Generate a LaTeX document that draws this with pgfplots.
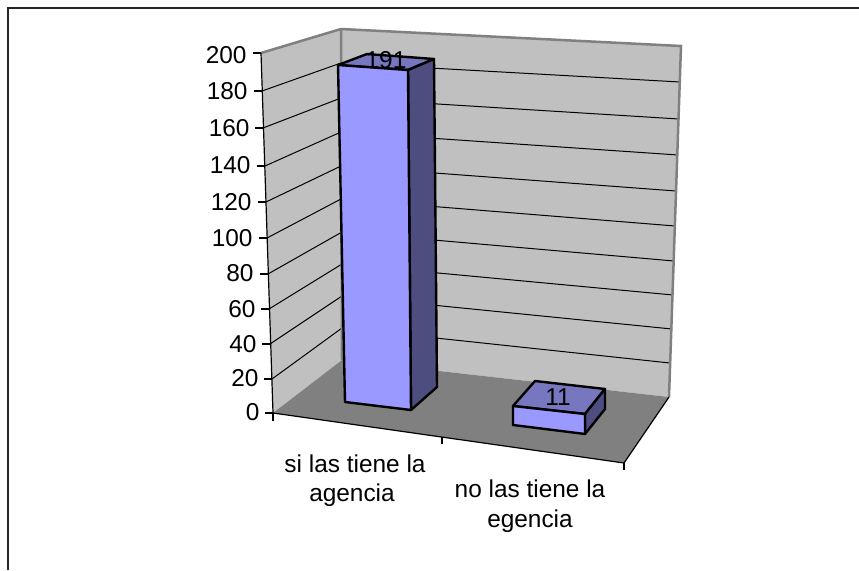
\documentclass[border=0pt]{standalone}
\usepackage{pgfplots}
\pgfplotsset{compat=1.18}
\usepackage{fontspec}
\setmainfont{Liberation Sans}
\definecolor{wall}{HTML}{C0C0C0}
\definecolor{floorc}{HTML}{808080}
\definecolor{bfront}{HTML}{9999FF}
\definecolor{btop}{HTML}{7777C0}
\definecolor{bside}{HTML}{4D4D80}
\newcommand{\lab}{\fontsize{24.4}{28}\selectfont}
\begin{document}
\begin{tikzpicture}[x=1pt,y=1pt]
\useasboundingbox (0,0) rectangle (859,570);
\begin{axis}[at={(0,0)},anchor=south west,scale only axis,width=859pt,height=570pt,
  xmin=0,xmax=859,ymin=0,ymax=570,y dir=reverse,hide axis,clip=false]
% walls and floor
\addplot[fill=wall,draw=none] coordinates {(261,53)(341,29)(342,360)(273,413)} --cycle;
\addplot[fill=wall,draw=none] coordinates {(341,29)(681,46)(669,397)(342,360)} --cycle;
\addplot[fill=floorc,draw=none] coordinates {(273,413)(342,360)(669,397)(624,463)} --cycle;
% gridlines
\addplot[black,line width=1pt] coordinates {(262,91)(341,63)(680,82)};
\addplot[black,line width=1pt] coordinates {(263,128)(341,98)(679,119)};
\addplot[black,line width=1pt] coordinates {(265,166)(341,132)(678,155)};
\addplot[black,line width=1pt] coordinates {(266,202)(341,166)(676,191)};
\addplot[black,line width=1pt] coordinates {(267,238)(341,199)(675,226)};
\addplot[black,line width=1pt] coordinates {(268,274)(342,232)(674,261)};
\addplot[black,line width=1pt] coordinates {(269,309)(342,264)(673,295)};
\addplot[black,line width=1pt] coordinates {(270,344)(342,296)(672,329)};
\addplot[black,line width=1pt] coordinates {(272,379)(342,328)(670,363)};
% wall edges
\addplot[floorc,line width=2.5pt] coordinates {(261,53)(341,29)(681,46)(669,397)};
\addplot[floorc,line width=2.5pt] coordinates {(341,29)(342,360)};
% axes
\addplot[black,line width=1.2pt] coordinates {(261,53)(273,413)(624,463)};
\addplot[black,line width=1.2pt] coordinates {(624,463)(669,397)};
\addplot[black,line width=1.2pt] coordinates {(253,53)(261,53)};
\addplot[black,line width=1.2pt] coordinates {(254,91)(262,91)};
\addplot[black,line width=1.2pt] coordinates {(255,128)(263,128)};
\addplot[black,line width=1.2pt] coordinates {(257,166)(265,166)};
\addplot[black,line width=1.2pt] coordinates {(258,202)(266,202)};
\addplot[black,line width=1.2pt] coordinates {(259,238)(267,238)};
\addplot[black,line width=1.2pt] coordinates {(260,274)(268,274)};
\addplot[black,line width=1.2pt] coordinates {(261,309)(269,309)};
\addplot[black,line width=1.2pt] coordinates {(262,344)(270,344)};
\addplot[black,line width=1.2pt] coordinates {(264,379)(272,379)};
\addplot[black,line width=1.2pt] coordinates {(265,413)(273,413)};
\addplot[black,line width=1.2pt] coordinates {(273,413)(273,421)};
\addplot[black,line width=1.2pt] coordinates {(442,437)(442,444)};
\addplot[black,line width=1.2pt] coordinates {(624,463)(624,470)};
% bar 1: value 191
\addplot[fill=btop,draw=black,line width=2.4pt,line join=round] coordinates {(338,65)(367,54)(434,59)(408,70)} --cycle;
\addplot[fill=bside,draw=black,line width=2.4pt,line join=round] coordinates {(408,70)(434,59)(437,387)(411,410)} --cycle;
\addplot[fill=bfront,draw=black,line width=2.4pt,line join=round] coordinates {(338,65)(408,70)(411,410)(345,402)} --cycle;
% bar 2: value 11
\addplot[fill=btop,draw=black,line width=2.4pt,line join=round] coordinates {(513,406)(535,381)(605,389)(585,414)} --cycle;
\addplot[fill=bside,draw=black,line width=2.4pt,line join=round] coordinates {(585,414)(605,389)(605,409)(585,434)} --cycle;
\addplot[fill=bfront,draw=black,line width=2.4pt,line join=round] coordinates {(513,406)(585,414)(585,434)(513,425)} --cycle;
% outer border
\addplot[black!85,line width=1.6pt] coordinates {(8,570)(8,8)(859,8)};
% text
\node[font=\lab,anchor=east] at (axis cs:250,55) {200};
\node[font=\lab,anchor=east] at (axis cs:251,91) {180};
\node[font=\lab,anchor=east] at (axis cs:253,128) {160};
\node[font=\lab,anchor=east] at (axis cs:254,165) {140};
\node[font=\lab,anchor=east] at (axis cs:255,202) {120};
\node[font=\lab,anchor=east] at (axis cs:256,238) {100};
\node[font=\lab,anchor=east] at (axis cs:257,273) {80};
\node[font=\lab,anchor=east] at (axis cs:259,309) {60};
\node[font=\lab,anchor=east] at (axis cs:260,344) {40};
\node[font=\lab,anchor=east] at (axis cs:262,378) {20};
\node[font=\lab,anchor=east] at (axis cs:263,412) {0};
\node[font=\lab] at (axis cs:386,60) {191};
\node[font=\lab] at (axis cs:558,397) {11};
\node[font=\lab] at (axis cs:355,464) {si las tiene la};
\node[font=\lab] at (axis cs:352,495) {agencia};
\node[font=\lab] at (axis cs:530,489) {no las tiene la};
\node[font=\lab] at (axis cs:530,521) {egencia};
\end{axis}
\end{tikzpicture}
\end{document}
